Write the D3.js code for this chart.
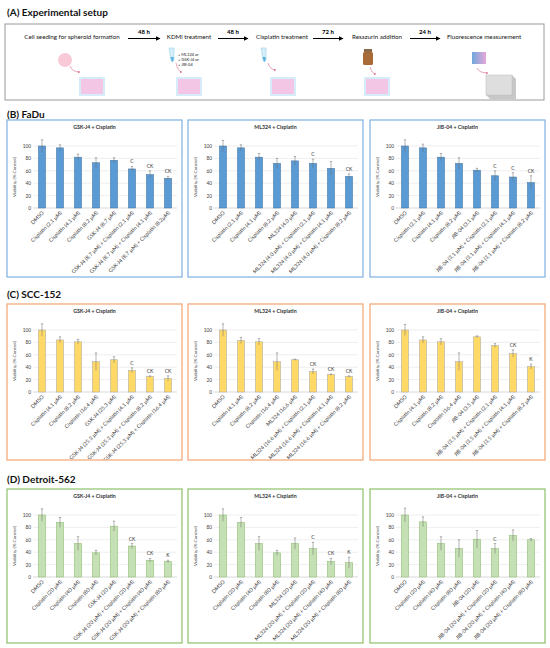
<!DOCTYPE html>
<html>
<head>
<meta charset="utf-8">
<script src="https://cdn.jsdelivr.net/npm/d3@7/dist/d3.min.js"></script>
<style>
  body { margin: 0; background: #fff; }
  svg { display: block; font-family: Lato, 'Open Sans', sans-serif; }
</style>
</head>
<body>
<script>
// ---- data ----
const yTicks = [0, 20, 40, 60, 80, 100];

const steps = ['Cell seeding for spheroid formation', 'KDMi treatment', 'Cisplatin treatment', 'Resazurin addition', 'Fluorescence measurement'];
const stepTimes = ['48 h', '48 h', '72 h', '24 h'];
const kdmiList = ['+ ML324 or', '+ GSK-J4 or', '+ JIB-04'];

const faduGskCats = ['DMSO', 'Cisplatin (2.1 µM)', 'Cisplatin (4.1 µM)', 'Cisplatin (8.2 µM)', 'GSK-J4 (8.7 µM)',
  'GSK-J4 (8.7 µM) + Cisplatin (2.1 µM)', 'GSK-J4 (8.7 µM) + Cisplatin (4.1 µM)', 'GSK-J4 (8.7 µM) + Cisplatin (8.2µM)'];
const faduGskVals = [100, 97, 82, 73, 77, 63, 54, 48];
const faduGskErr = [10, 5, 5, 8, 4, 4, 6, 3];
const faduGskSig = ['', '', '', '', '', 'C', 'CK', 'CK'];

const faduMlCats = ['DMSO', 'Cisplatin (2.1 µM)', 'Cisplatin (4.1 µM)', 'Cisplatin (8.2 µM)', 'ML324 (4.0 µM)',
  'ML324 (4.0 µM) + Cisplatin (2.1 µM)', 'ML324 (4.0 µM) + Cisplatin (4.1 µM)', 'ML324 (4.0 µM) + Cisplatin (8.2 µM)'];
const faduMlVals = [100, 97, 82, 72, 76, 72, 64, 51];
const faduMlErr = [9, 5, 6, 8, 7, 7, 11, 4];
const faduMlSig = ['', '', '', '', '', 'C', '', 'CK'];

const faduJibCats = ['DMSO', 'Cisplatin (2.1 µM)', 'Cisplatin (4.1 µM)', 'Cisplatin (8.2 µM)', 'JIB-04 (3.1 µM)',
  'JIB-04 (3.1 µM) + Cisplatin (2.1 µM)', 'JIB-04 (3.1 µM) + Cisplatin (4.1 µM)', 'JIB-04 (3.1 µM) + Cisplatin (8.2 µM)'];
const faduJibVals = [100, 97, 82, 72, 61, 52, 50, 41];
const faduJibErr = [10, 6, 6, 9, 3, 8, 7, 11];
const faduJibSig = ['', '', '', '', '', 'C', 'C', 'CK'];

const sccGskCats = ['DMSO', 'Cisplatin (4.1 µM)', 'Cisplatin (8.2 µM)', 'Cisplatin (16.4 µM)', 'GSK-J4 (25.3 µM)',
  'GSK-J4 (25.3 µM) + Cisplatin (4.1 µM)', 'GSK-J4 (25.3 µM) + Cisplatin (8.2 µM)', 'GSK-J4 (25.3 µM) + Cisplatin (16.4 µM)'];
const sccGskVals = [100, 84, 81, 49, 52, 35, 25, 22];
const sccGskErr = [10, 5, 4, 14, 5, 4, 1, 4];
const sccGskSig = ['', '', '', '', '', 'C', 'CK', 'CK'];

const sccMlCats = ['DMSO', 'Cisplatin (4.1 µM)', 'Cisplatin (8.2 µM)', 'Cisplatin (16.4 µM)', 'ML324 (16.6 µM)',
  'ML324 (16.6 µM) + Cisplatin (2.1 µM)', 'ML324 (16.6 µM) + Cisplatin (4.1 µM)', 'ML324 (16.6 µM) + Cisplatin (8.2 µM)'];
const sccMlVals = [100, 83, 81, 49, 52, 33, 28, 25];
const sccMlErr = [10, 5, 5, 14, 1, 4, 1, 1];
const sccMlSig = ['', '', '', '', '', 'CK', 'CK', 'CK'];

const sccJibCats = ['DMSO', 'Cisplatin (4.1 µM)', 'Cisplatin (8.2 µM)', 'Cisplatin (16.4 µM)', 'JIB-04 (3.5 µM)',
  'JIB-04 (3.5 µM) + Cisplatin (2.1 µM)', 'JIB-04 (3.5 µM) + Cisplatin (4.1 µM)', 'JIB-04 (3.5 µM) + Cisplatin (8.2 µM)'];
const sccJibVals = [100, 84, 81, 49, 89, 75, 62, 41];
const sccJibErr = [9, 5, 5, 14, 1.5, 3, 6, 4];
const sccJibSig = ['', '', '', '', '', '', 'CK', 'K'];

const detGskCats = ['DMSO', 'Cisplatin (20 µM)', 'Cisplatin (40 µM)', 'Cisplatin (80 µM)', 'GSK-J4 (20 µM)',
  'GSK-J4 (20 µM) + Cisplatin (20 µM)', 'GSK-J4 (20 µM) + Cisplatin (40 µM)', 'GSK-J4 (20 µM) + Cisplatin (80 µM)'];
const detGskVals = [100, 88, 54, 39, 82, 50, 27, 25];
const detGskErr = [10, 8, 11, 4, 8, 4, 3, 2];
const detGskSig = ['', '', '', '', '', 'CK', 'CK', 'K'];

const detMlCats = ['DMSO', 'Cisplatin (20 µM)', 'Cisplatin (40 µM)', 'Cisplatin (80 µM)', 'ML324 (20 µM)',
  'ML324 (20 µM) + Cisplatin (20 µM)', 'ML324 (20 µM) + Cisplatin (40 µM)', 'ML324 (20 µM) + Cisplatin (80 µM)'];
const detMlVals = [100, 88, 54, 39, 54, 46, 25, 23];
const detMlErr = [10, 8, 11, 4, 9, 10, 5, 9];
const detMlSig = ['', '', '', '', '', 'C', 'CK', 'K'];

const detJibCats = ['DMSO', 'Cisplatin (20 µM)', 'Cisplatin (40 µM)', 'Cisplatin (80 µM)', 'JIB-04 (20 µM)',
  'JIB-04 (20 µM) + Cisplatin (20 µM)', 'JIB-04 (20 µM) + Cisplatin (40 µM)', 'JIB-04 (20 µM) + Cisplatin (80 µM)'];
const detJibVals = [100, 89, 54, 46, 61, 46, 67, 60];
const detJibErr = [11, 8, 11, 14, 14, 8, 9, 2];
const detJibSig = ['', '', '', '', '', 'C', '', ''];

// ---- layout ----
const W = 550, H = 648;
const panelX = [7, 188, 370], panelW = 175;
const titles = ['GSK-J4 + Cisplatin', 'ML324 + Cisplatin', 'JIB-04 + Cisplatin'];

const rows = [
  { label: '(B) FaDu', labelY: 114, top: 120, bottom: 277, border: '#7fb0e2', fill: '#5b9bd5', edge: '#41719c',
    sets: [[faduGskCats, faduGskVals, faduGskErr, faduGskSig], [faduMlCats, faduMlVals, faduMlErr, faduMlSig], [faduJibCats, faduJibVals, faduJibErr, faduJibSig]] },
  { label: '(C) SCC-152', labelY: 294, top: 304, bottom: 460, border: '#f4a373', fill: '#ffd966', edge: '#a5a5a5',
    sets: [[sccGskCats, sccGskVals, sccGskErr, sccGskSig], [sccMlCats, sccMlVals, sccMlErr, sccMlSig], [sccJibCats, sccJibVals, sccJibErr, sccJibSig]] },
  { label: '(D) Detroit-562', labelY: 479, top: 489, bottom: 643, border: '#8cc06a', fill: '#c5e0b4', edge: '#86b567',
    sets: [[detGskCats, detGskVals, detGskErr, detGskSig], [detMlCats, detMlVals, detMlErr, detMlSig], [detJibCats, detJibVals, detJibErr, detJibSig]] }
];

const svg = d3.select('body').append('svg').attr('width', W).attr('height', H);
const defs = svg.append('defs');

defs.append('marker').attr('id', 'arr').attr('viewBox', '0 0 10 10').attr('refX', 9).attr('refY', 5)
  .attr('markerWidth', 5).attr('markerHeight', 5).attr('orient', 'auto')
  .append('path').attr('d', 'M0,0 L10,5 L0,10 z').attr('fill', '#000');
defs.append('marker').attr('id', 'parr').attr('viewBox', '0 0 10 10').attr('refX', 9).attr('refY', 5)
  .attr('markerWidth', 4).attr('markerHeight', 4).attr('orient', 'auto')
  .append('path').attr('d', 'M0,0 L10,5 L0,10 z').attr('fill', '#d9668a');
const grad = defs.append('linearGradient').attr('id', 'fluo');
grad.append('stop').attr('offset', '0%').attr('stop-color', '#6fa8dc');
grad.append('stop').attr('offset', '100%').attr('stop-color', '#e8a8d8');

// ---- (A) experimental setup ----
svg.append('text').attr('x', 7).attr('y', 15.5).attr('font-size', 10).attr('font-weight', 'bold')
  .attr('fill', '#111').text('(A) Experimental setup');
svg.append('rect').attr('x', 5).attr('y', 24).attr('width', 539).attr('height', 76)
  .attr('fill', 'none').attr('stroke', '#9a9a9a').attr('stroke-width', 1);

const stepX = [72, 189, 282, 377, 484];
const arrowX = [[128, 160], [218, 248], [313, 343], [410, 440]];
svg.selectAll('.step').data(steps).join('text')
  .attr('x', (d, i) => stepX[i]).attr('y', 39).attr('text-anchor', 'middle')
  .attr('font-size', 6.2).attr('fill', '#111').text(d => d);
arrowX.forEach((a, i) => {
  svg.append('line').attr('x1', a[0]).attr('x2', a[1]).attr('y1', 38.5).attr('y2', 38.5)
    .attr('stroke', '#000').attr('stroke-width', 1).attr('marker-end', 'url(#arr)');
  svg.append('text').attr('x', (a[0] + a[1]) / 2).attr('y', 33.5).attr('text-anchor', 'middle')
    .attr('font-size', 6).attr('font-weight', 'bold').text(stepTimes[i]);
});
svg.selectAll('.kdmi').data(kdmiList).join('text')
  .attr('x', 178).attr('y', (d, i) => 56 + i * 5.2).attr('font-size', 4).attr('fill', '#222').text(d => d);

// plates
[92, 189, 283, 377].forEach(cx => {
  svg.append('rect').attr('x', cx - 12).attr('y', 78).attr('width', 24).attr('height', 17)
    .attr('fill', '#f2c6e4').attr('stroke', '#d6ecf8').attr('stroke-width', 2);
});
// spheroid
svg.append('circle').attr('cx', 65).attr('cy', 60).attr('r', 7).attr('fill', '#f7c4d4').attr('opacity', 0.9);
// tubes
[172, 264].forEach(cx => {
  svg.append('path').attr('d', `M${cx - 3},48 L${cx + 2},48 L${cx + 2},60 Q${cx},64 ${cx - 1},60 Z`)
    .attr('fill', '#d5eef8').attr('stroke', '#9fd0ea').attr('stroke-width', 0.6);
  svg.append('path').attr('d', `M${cx - 1.5},57 L${cx + 1.5},57 L${cx + 1.5},60 Q${cx},63 ${cx - 0.5},60 Z`).attr('fill', '#4fb0e0');
});
// resazurin bottle
svg.append('rect').attr('x', 364).attr('y', 49).attr('width', 8).attr('height', 3).attr('fill', '#8a6a4a');
svg.append('rect').attr('x', 363).attr('y', 52).attr('width', 10).attr('height', 13).attr('rx', 1.5).attr('fill', '#a86b38');
// fluorescence plate and reader
svg.append('rect').attr('x', 472).attr('y', 52).attr('width', 14).attr('height', 12).attr('fill', 'url(#fluo)');
svg.append('path').attr('d', 'M486,75 L512,75 L516,79 L516,99 L490,99 L486,95 Z').attr('fill', '#c8c8c8');
svg.append('rect').attr('x', 486).attr('y', 75).attr('width', 26).attr('height', 20).attr('fill', '#dedede').attr('stroke', '#bdbdbd').attr('stroke-width', 0.5);
// pink arrows
[[70, 66, 80, 72], [176, 63, 182, 72], [268, 63, 276, 70], [370, 67, 376, 74], [477, 68, 488, 73]].forEach(a => {
  svg.append('path').attr('d', `M${a[0]},${a[1]} Q${a[0] + 2},${a[3]} ${a[2]},${a[3]}`)
    .attr('fill', 'none').attr('stroke', '#d9668a').attr('stroke-width', 0.6).attr('marker-end', 'url(#parr)');
});

// ---- bar chart panels ----
let clipId = 0;
function drawPanel(row, px, title, set) {
  const [cats, vals, errs, sigs] = set;
  const T = row.top, L = px, Hh = row.bottom - row.top;
  const id = 'clip' + (clipId++);
  defs.append('clipPath').attr('id', id).append('rect')
    .attr('x', L).attr('y', T).attr('width', panelW).attr('height', Hh);

  const g = svg.append('g');
  const x = d3.scaleBand().domain(cats).range([L + 26, L + 170]).paddingInner(0.6).paddingOuter(0.3);
  const y = d3.scaleLinear().domain([0, 100]).range([T + 88, T + 26]);

  g.append('text').attr('x', L + panelW / 2).attr('y', T + 9).attr('text-anchor', 'middle')
    .attr('font-size', 5.2).attr('font-weight', 'bold').attr('fill', '#333').text(title);

  g.selectAll('.grid').data(yTicks).join('line')
    .attr('x1', L + 26).attr('x2', L + 170).attr('y1', d => y(d)).attr('y2', d => y(d))
    .attr('stroke', d => d === 0 ? '#bfbfbf' : '#e3e3e3').attr('stroke-width', 0.6);

  const ax = g.append('g').attr('transform', `translate(${L + 24},0)`)
    .call(d3.axisLeft(y).tickValues(yTicks).tickSize(0).tickPadding(0));
  ax.select('.domain').remove();
  ax.selectAll('text').attr('font-size', 4.8).attr('fill', '#404040').attr('font-family', 'Lato, sans-serif');

  g.append('text').attr('transform', `translate(${L + 9},${T + 57}) rotate(-90)`).attr('text-anchor', 'middle')
    .attr('font-size', 4.6).attr('fill', '#404040').text('Viability (% Control)');

  const data = cats.map((c, i) => ({ c, v: vals[i], e: errs[i], s: sigs[i] }));
  g.selectAll('.bar').data(data).join('rect')
    .attr('x', d => x(d.c)).attr('width', x.bandwidth())
    .attr('y', d => y(d.v)).attr('height', d => y(0) - y(d.v))
    .attr('fill', row.fill).attr('stroke', row.edge).attr('stroke-width', 0.5);

  const eb = g.selectAll('.err').data(data).join('g').attr('stroke', '#6b6b6b').attr('stroke-width', 0.5);
  eb.append('line').attr('x1', d => x(d.c) + x.bandwidth() / 2).attr('x2', d => x(d.c) + x.bandwidth() / 2)
    .attr('y1', d => y(d.v - d.e)).attr('y2', d => y(d.v + d.e));
  eb.append('line').attr('x1', d => x(d.c) + x.bandwidth() / 2 - 1.2).attr('x2', d => x(d.c) + x.bandwidth() / 2 + 1.2)
    .attr('y1', d => y(d.v + d.e)).attr('y2', d => y(d.v + d.e));

  g.selectAll('.sig').data(data.filter(d => d.s)).join('text')
    .attr('x', d => x(d.c) + x.bandwidth() / 2).attr('y', d => y(d.v + d.e) - 3)
    .attr('text-anchor', 'middle').attr('font-size', 5).attr('fill', '#333').text(d => d.s);

  g.append('g').attr('clip-path', `url(#${id})`).selectAll('.xl').data(cats).join('text')
    .attr('transform', d => `translate(${x(d) + x.bandwidth() / 2 + 1},${y(0) + 4}) rotate(-45)`)
    .attr('text-anchor', 'end').attr('dy', '0.35em').attr('font-size', 5.3).attr('fill', '#404040').text(d => d);

  svg.append('rect').attr('x', L).attr('y', T).attr('width', panelW).attr('height', Hh)
    .attr('fill', 'none').attr('stroke', row.border).attr('stroke-width', 1.2);
}

rows.forEach(row => {
  svg.append('text').attr('x', 7).attr('y', row.labelY + 3.5).attr('font-size', 10).attr('font-weight', 'bold')
    .attr('fill', '#111').text(row.label);
  row.sets.forEach((set, i) => drawPanel(row, panelX[i], titles[i], set));
});
</script>
</body>
</html>
